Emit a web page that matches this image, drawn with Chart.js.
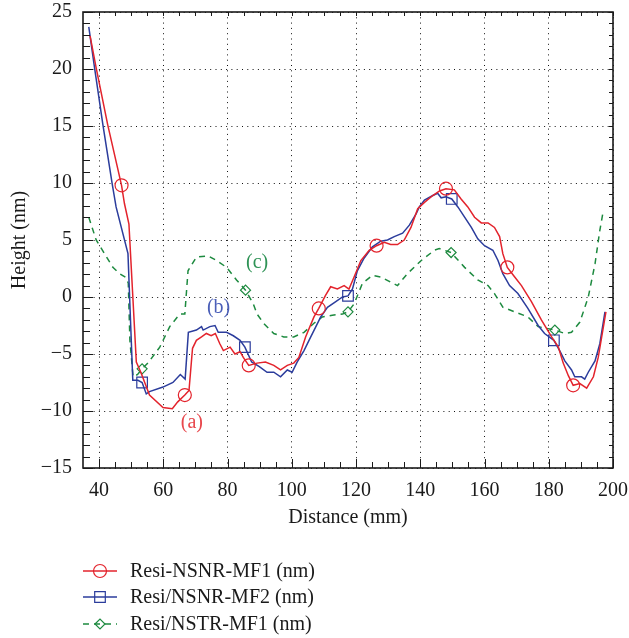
<!DOCTYPE html>
<html>
<head>
<meta charset="utf-8">
<title>Height profiles</title>
<script src="https://cdn.jsdelivr.net/npm/chart.js@4.4.1/dist/chart.umd.min.js"></script>
<style>
  html, body { margin: 0; padding: 0; background: #fff; }
  #chart { display: block; }
</style>
</head>
<body>
<canvas id="chart" width="629" height="638"></canvas>
<script>
/* ====== DATA ====== */
const xTicks = [40, 60, 80, 100, 120, 140, 160, 180, 200];
const yTicks = [-15, -10, -5, 0, 5, 10, 15, 20, 25];

// (a) Resi-NSNR-MF1
const redX = [37.2, 39.1, 42.7, 47.0, 47.9, 49.3, 51.6, 53.0, 55.7, 59.9, 62.8, 64.5, 66.7, 68.0, 69.1, 70.3,
  71.9, 73.4, 74.9, 76.2, 77.6, 78.7, 80.8, 82.3, 83.9, 84.9, 86.6, 89.2, 91.8, 94.4, 96.5, 98.6, 100.6,
  102.2, 104.3, 106.9, 108.4, 110.5, 112.1, 114.2, 116.3, 117.8, 119.4, 121.5, 124.1, 126.4, 128.8, 130.8,
  132.9, 135.0, 137.1, 139.2, 141.3, 143.9, 146.0, 148.0, 150.6, 152.7, 154.8, 156.9, 159.0, 161.1, 163.1,
  164.7, 165.7, 167.1, 169.4, 171.5, 174.6, 177.7, 180.9, 183.0, 184.5, 186.1, 187.6, 189.7, 191.8, 193.9,
  195.4, 197.8];
const redY = [22.9, 20.1, 15.1, 9.8, 8.2, 6.4, -5.7, -6.6, -8.6, -9.7, -9.8, -9.2, -8.6, -8.2, -4.5, -3.8,
  -3.5, -3.2, -3.4, -3.2, -4.1, -4.7, -4.4, -5.0, -4.8, -5.3, -6.0, -5.8, -5.7, -6.0, -6.4, -6.0, -5.8,
  -5.3, -3.5, -1.75, -1.0, 0.15, 0.9, 0.7, 1.0, 0.7, 1.75, 3.2, 4.1, 4.5, 4.8, 4.6,
  4.6, 5.0, 6.1, 7.75, 8.3, 8.9, 9.3, 9.5, 9.4, 8.6, 7.9, 7.0, 6.5, 6.5, 6.1,
  5.3, 3.8, 2.6, 1.75, 1.0, -0.4, -2.0, -3.5, -4.4, -5.8, -6.9, -7.75, -7.6, -8.0, -7.0,
  -5.3, -1.3];
const redMarkX = [47.0, 66.7, 86.6, 108.4, 126.4, 148.0, 167.1, 187.6];

// (b) Resi/NSNR-MF2
const blueX = [36.8, 38.6, 41.2, 44.1, 45.3, 49.0, 50.5, 52.1, 53.4, 54.7, 55.7, 59.9, 63.0, 65.3, 66.8, 67.8,
  70.3, 71.9, 72.4, 74.5, 76.1, 77.1, 79.7, 81.8, 83.9, 85.4, 87.5, 89.9, 92.3, 94.4, 96.5, 98.6, 100.1,
  101.7, 103.8, 105.9, 107.5, 109.0, 111.1, 113.7, 115.8, 117.5, 118.9, 120.4, 122.5, 125.1, 127.7, 129.8,
  131.9, 134.5, 136.6, 138.7, 139.7, 141.3, 143.9, 145.4, 146.5, 148.0, 149.8, 151.7, 153.8, 155.9, 157.9,
  160.0, 162.6, 164.2, 165.7, 167.8, 170.4, 173.5, 176.7, 178.7, 181.6, 183.4, 185.0, 187.1, 188.1, 190.2,
  191.2, 192.3, 194.4, 195.9, 197.5];
const blueY = [23.7, 20.1, 15.1, 9.9, 7.9, 3.8, -7.3, -7.3, -7.5, -8.5, -8.3, -7.9, -7.5, -6.8, -7.2, -3.1,
  -2.9, -2.6, -2.9, -2.6, -2.5, -3.1, -3.1, -3.4, -3.8, -4.4, -5.7, -6.1, -6.6, -6.6, -7.0, -6.4, -6.6,
  -5.7, -4.7, -3.5, -2.6, -1.75, -0.9, -0.4, 0.0, 0.1, 0.7, 2.3, 3.4, 4.4, 4.9, 5.0,
  5.3, 5.6, 6.3, 7.3, 7.9, 8.5, 8.9, 9.1, 8.7, 8.8, 8.6, 7.9, 7.0, 6.1, 5.1,
  4.5, 4.1, 3.2, 2.05, 1.0, 0.3, -1.0, -2.5, -3.2, -3.8, -4.7, -5.6, -6.4, -7.0, -7.0,
  -7.2, -6.6, -5.6, -4.1, -1.3];
const blueMarkX = [53.4, 85.4, 117.5, 149.8, 181.6];

// (c) Resi/NSTR-MF1
const greenX = [36.8, 39.1, 41.7, 44.3, 46.4, 48.4, 49.1, 49.6, 50.6, 52.0, 53.4, 55.2, 58.9, 62.0, 65.1, 66.7,
  67.7, 70.3, 74.0, 76.6, 79.7, 82.8, 85.6, 88.0, 89.2, 91.2, 94.4, 97.5, 100.6, 103.8, 106.9, 109.5,
  112.6, 115.8, 117.5, 119.4, 122.0, 125.1, 127.7, 132.9, 136.0, 140.3, 144.4, 145.9, 149.6, 153.8, 157.9,
  161.1, 163.1, 165.7, 169.4, 173.5, 176.7, 181.9, 185.0, 187.1, 189.7, 192.3, 194.4, 195.9, 197.0];
const greenY = [7.0, 5.0, 3.8, 2.6, 2.05, 1.7, 1.2, -3.8, -7.0, -6.8, -6.3, -5.8, -4.4, -2.6, -1.5, -1.5,
  2.3, 3.5, 3.6, 3.2, 2.6, 1.5, 0.6, -0.6, -1.5, -2.3, -3.2, -3.5, -3.5, -3.1, -2.3, -1.75,
  -1.6, -1.5, -1.3, -0.6, 1.2, 1.9, 1.75, 1.0, 2.05, 3.2, 4.1, 4.25, 3.9, 2.6, 1.5,
  1.0, 0.3, -0.9, -1.3, -1.75, -2.6, -2.9, -3.2, -3.1, -2.2, 0.0, 2.9, 5.85, 7.6];
const greenMarkX = [53.4, 85.6, 117.5, 149.6, 181.9];

const seriesNames = ["Resi-NSNR-MF1 (nm)", "Resi/NSNR-MF2 (nm)", "Resi/NSTR-MF1 (nm)"];
const curveTags = ["(a)", "(b)", "(c)"];
const tagX = [68.9, 77.2, 89.2];
const tagY = [-11.0, -0.9, 3.0];

/* ====== STYLE ====== */
const RED = "#e3232c", BLUE = "#2b3c9c", GREEN = "#1d8a3f";
const tagColors = ["#e8474c", "#4b5fb8", "#2f9356"];
const FONT = "'Liberation Serif', 'Times New Roman', serif";
const FS = 20;

const pts = (xs, ys) => xs.map((x, i) => ({x, y: ys[i]}));
const markRadius = (marks, r) => (c) => (c.raw && marks.includes(c.raw.x)) ? r : 0;

/* ====== PLUGINS ====== */
// inward tick marks on all four sides + closed frame
const frameTicks = {
  id: "frameTicks",
  afterDraw(chart){
    const {ctx, chartArea: a, scales: {x, y}} = chart;
    ctx.save();
    ctx.strokeStyle = "#1a1a1a";
    ctx.lineWidth = 1;
    ctx.beginPath();
    for (let v = 40; v <= 200; v += 5){
      const px = Math.round(x.getPixelForValue(v)) + 0.5;
      const major = v % 20 === 0;
      ctx.moveTo(px, a.bottom); ctx.lineTo(px, a.bottom - (major ? 9 : 6));
      ctx.moveTo(px, a.top); ctx.lineTo(px, a.top + 4);
    }
    for (let v = -15; v <= 25; v += 1){
      const py = Math.round(y.getPixelForValue(v)) + 0.5;
      const major = v % 5 === 0;
      ctx.moveTo(a.left, py); ctx.lineTo(a.left + (major ? 10 : 7), py);
      ctx.moveTo(a.right, py); ctx.lineTo(a.right - 4, py);
    }
    ctx.stroke();
    ctx.lineWidth = 1.6;
    ctx.strokeRect(a.left, a.top, a.right - a.left, a.bottom - a.top);
    ctx.restore();
  }
};

// (a) (b) (c) tags next to curves
const curveLabels = {
  id: "curveLabels",
  afterDatasetsDraw(chart){
    const {ctx, scales: {x, y}} = chart;
    ctx.save();
    ctx.font = `${FS}px ${FONT}`;
    ctx.textAlign = "center"; ctx.textBaseline = "middle";
    curveTags.forEach((t, i)=>{
      ctx.fillStyle = tagColors[i];
      ctx.fillText(t, x.getPixelForValue(tagX[i]), y.getPixelForValue(tagY[i]));
    });
    ctx.restore();
  }
};

// stacked legend under the x axis title
const stackLegend = {
  id: "stackLegend",
  afterDraw(chart){
    const {ctx} = chart;
    const rows = [571, 597, 624];
    ctx.save();
    chart.data.datasets.forEach((ds, i)=>{
      const yy = rows[i];
      ctx.strokeStyle = ds.borderColor;
      ctx.lineWidth = ds.borderWidth;
      ctx.setLineDash(ds.borderDash || []);
      ctx.beginPath(); ctx.moveTo(83, yy); ctx.lineTo(117, yy); ctx.stroke();
      ctx.setLineDash([]);
      ctx.fillStyle = "rgba(0,0,0,0)";
      ctx.lineWidth = 1.2;
      Chart.helpers.drawPoint(ctx, {
        pointStyle: ds.pointStyle, radius: ds.legendRadius, borderWidth: 1.2, rotation: 0
      }, 100, yy);
      ctx.fillStyle = "#1a1a1a";
      ctx.font = `${FS}px ${FONT}`;
      ctx.textAlign = "left"; ctx.textBaseline = "middle";
      ctx.fillText(ds.label, 130, yy + 1);
    });
    ctx.restore();
  }
};

/* ====== CHART ====== */
const lineSet = (label, data, color, style, r, marks, dash) => ({
  label, data,
  borderColor: color, backgroundColor: "rgba(0,0,0,0)",
  borderWidth: 1.5, borderDash: dash,
  pointStyle: style, pointRadius: markRadius(marks, r), pointHoverRadius: 0,
  pointBorderColor: color, pointBackgroundColor: "rgba(0,0,0,0)", pointBorderWidth: 1.2,
  legendRadius: r, tension: 0, fill: false
});

Chart.defaults.font.family = FONT;
Chart.defaults.color = "#1a1a1a";

new Chart(document.getElementById("chart"), {
  type: "line",
  data: {
    datasets: [
      lineSet(seriesNames[0], pts(redX, redY), RED, "circle", 6.5, redMarkX, []),
      lineSet(seriesNames[1], pts(blueX, blueY), BLUE, "rect", 7.5, blueMarkX, []),
      lineSet(seriesNames[2], pts(greenX, greenY), GREEN, "rectRot", 5, greenMarkX, [6, 5])
    ]
  },
  options: {
    responsive: false,
    animation: false,
    devicePixelRatio: 1,
    layout: { padding: { top: 12, right: 16, bottom: 108, left: 0 } },
    plugins: { legend: { display: false }, tooltip: { enabled: false } },
    scales: {
      x: {
        type: "linear", min: 35, max: 200,
        afterBuildTicks: s => { s.ticks = xTicks.map(v => ({value: v})); },
        afterFit: s => { s.height = 62; s.paddingLeft = 0; s.paddingRight = 0; },
        grid: { color: "#111", lineWidth: 1, drawTicks: false },
        border: { display: false, dash: [1, 4.3] },
        ticks: { padding: 11, font: { size: FS }, color: "#1a1a1a", maxRotation: 0 },
        title: { display: true, text: "Distance (mm)", font: { size: FS }, color: "#1a1a1a", padding: { top: 0, bottom: 0 } }
      },
      y: {
        type: "linear", min: -15, max: 25,
        afterBuildTicks: s => { s.ticks = yTicks.map(v => ({value: v})); },
        afterFit: s => { s.width = 83; s.paddingTop = 0; s.paddingBottom = 0; },
        grid: { color: "#111", lineWidth: 1, drawTicks: false },
        border: { display: false, dash: [1, 4.3] },
        ticks: { padding: 11, font: { size: FS }, color: "#1a1a1a",
          callback: v => String(v).replace("-", "\u2212") },
        title: { display: true, text: "Height (nm)", font: { size: FS }, color: "#1a1a1a", padding: { top: 8, bottom: 0 } }
      }
    }
  },
  plugins: [frameTicks, curveLabels, stackLegend]
});
</script>
</body>
</html>
